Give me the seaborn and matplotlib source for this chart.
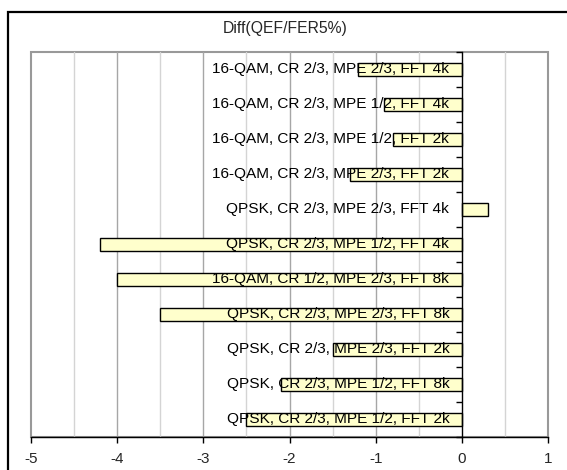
import matplotlib
matplotlib.use("Agg")
import matplotlib.pyplot as plt
import seaborn as sns
import pandas as pd
from matplotlib.patches import Rectangle

categories = [
    "16-QAM, CR 2/3, MPE 2/3, FFT 4k",
    "16-QAM, CR 2/3, MPE 1/2, FFT 4k",
    "16-QAM, CR 2/3, MPE 1/2, FFT 2k",
    "16-QAM, CR 2/3, MPE 2/3, FFT 2k",
    "QPSK, CR 2/3, MPE 2/3, FFT 4k",
    "QPSK, CR 2/3, MPE 1/2, FFT 4k",
    "16-QAM, CR 1/2, MPE 2/3, FFT 8k",
    "QPSK, CR 2/3, MPE 2/3, FFT 8k",
    "QPSK, CR 2/3, MPE 2/3, FFT 2k",
    "QPSK, CR 2/3, MPE 1/2, FFT 8k",
    "QPSK, CR 2/3, MPE 1/2, FFT 2k",
]
values = [-1.2, -0.9, -0.8, -1.3, 0.3, -4.2, -4.0, -3.5, -1.5, -2.1, -2.5]
x_ticks = [-5, -4, -3, -2, -1, 0, 1]
title = "Diff(QEF/FER5%)"

sns.set_style("white")
plt.rcParams["font.family"] = ["Liberation Sans", "DejaVu Sans"]

df = pd.DataFrame({"cat": categories, "val": values})

fig = plt.figure(figsize=(5.67, 4.7), dpi=100)
W, H = 567, 470
left, right, top, bottom = 31, 548, 51.7, 436.7
ax = fig.add_axes([left / W, 1 - bottom / H, (right - left) / W, (bottom - top) / H])

# outer chart frame
fig.patches.append(Rectangle((7.5 / W, -0.1), 1.2, 1 - 11.7 / H + 0.1,
                             transform=fig.transFigure, fill=False,
                             edgecolor="black", lw=1.6, zorder=0))

sns.barplot(data=df, y="cat", x="val", orient="h", ax=ax, color="#FFFFCC",
            saturation=1, edgecolor="black", linewidth=1.0, width=0.38, zorder=3)

ax.set_xlim(-5, 1)
ax.set_ylim(len(categories) - 0.5, -0.5)
ax.set_xlabel("")
ax.set_ylabel("")

# gridlines
for v in [-4.5, -3.5, -2.5, -1.5, -0.5, 0.5]:
    ax.axvline(v, color="#d4d4d4", lw=1.0, zorder=1)
for v in [-4, -3, -2, -1]:
    ax.axvline(v, color="#a6a6a6", lw=1.0, zorder=1)

# plot area border
ax.add_patch(Rectangle((0, 0), 1, 1, transform=ax.transAxes, fill=False,
                       edgecolor="#999999", lw=1.5, zorder=0.5, clip_on=False))

for s in ["top", "right"]:
    ax.spines[s].set_visible(False)
ax.spines["bottom"].set_color("black")
ax.spines["bottom"].set_linewidth(1.0)
ax.spines["left"].set_position(("data", 0))
ax.spines["left"].set_color("black")
ax.spines["left"].set_linewidth(1.0)
ax.spines["left"].set_zorder(4)

ax.set_xticks(x_ticks)
ax.set_xticklabels([str(t) for t in x_ticks], fontsize=11)
ax.tick_params(axis="x", direction="out", length=4, width=1, color="black", pad=7, bottom=True)
ax.set_yticks([i - 0.5 for i in range(len(categories) + 1)])
ax.set_yticklabels([])
ax.tick_params(axis="y", direction="out", length=4, width=1, color="black", left=True)

for i, c in enumerate(categories):
    ax.annotate(c, xy=(0, i), xytext=(-9, 0), textcoords="offset points",
                ha="right", va="center", fontsize=11.1, color="black", zorder=5)

fig.text(285 / W, 1 - 29 / H, title, ha="center", va="center", fontsize=11.3)

fig.savefig("out.png", dpi=100)
